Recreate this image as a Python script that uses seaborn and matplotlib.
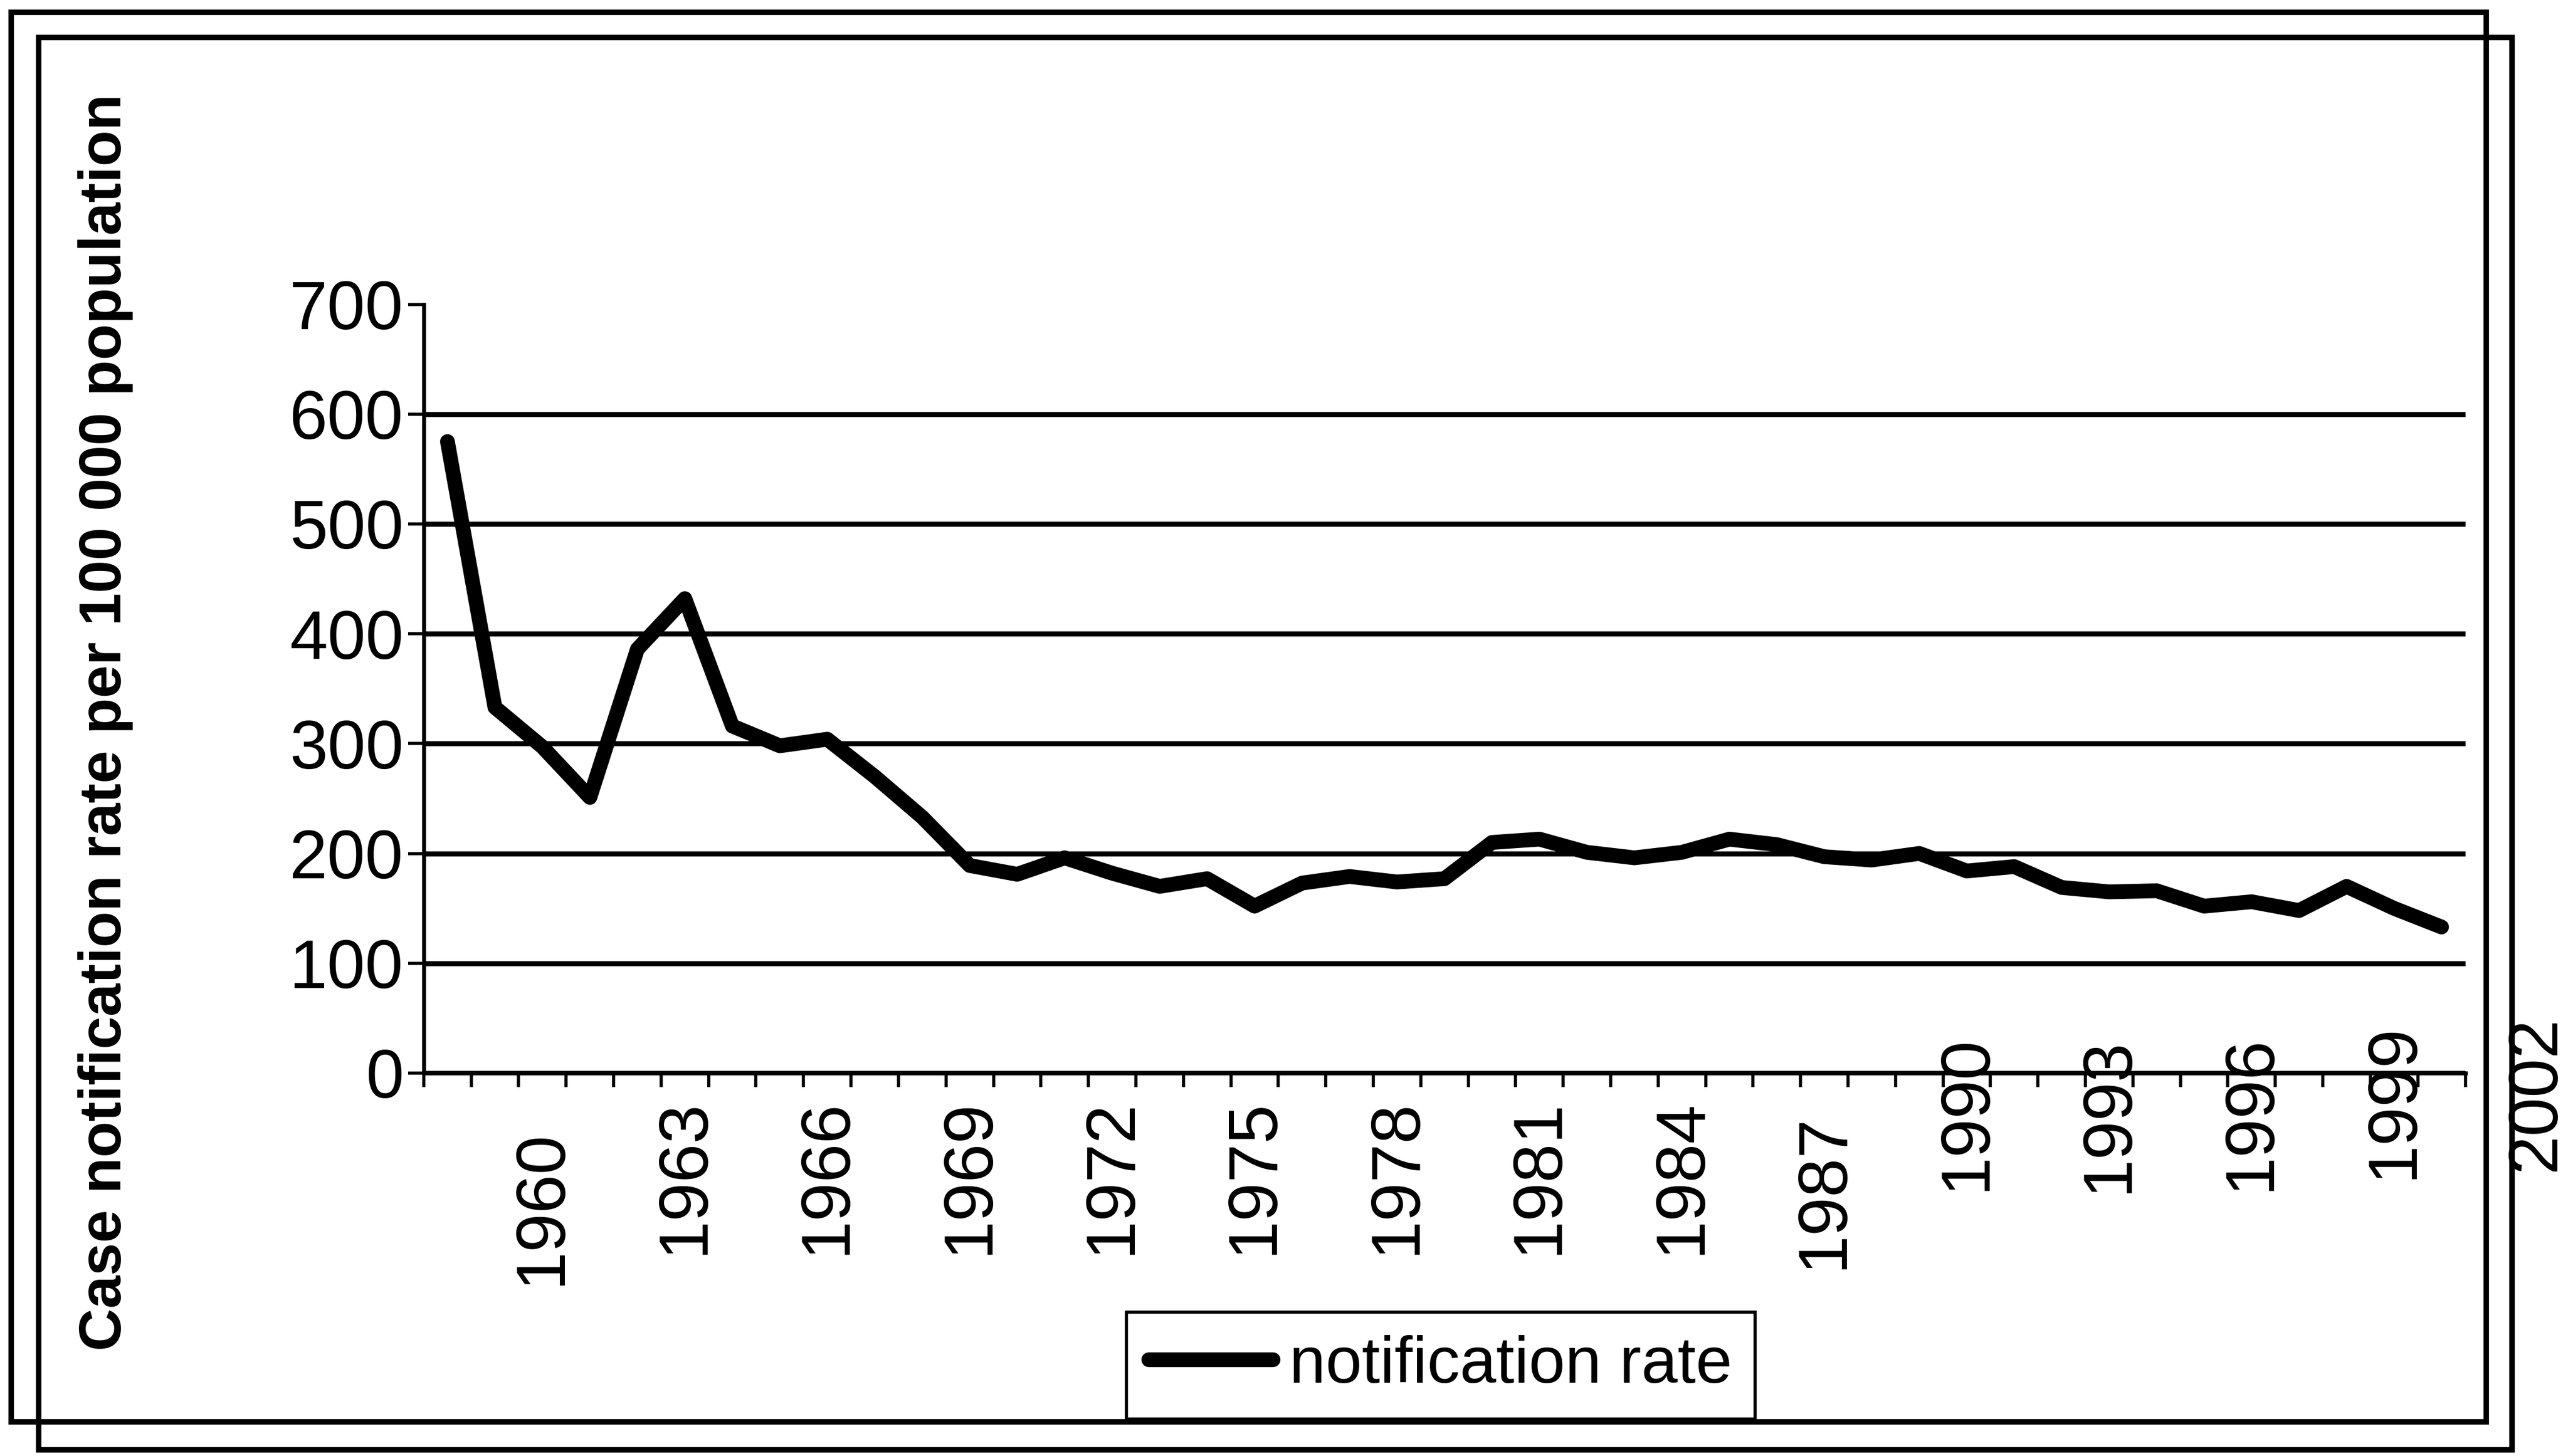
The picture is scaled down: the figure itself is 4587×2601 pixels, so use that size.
import matplotlib
matplotlib.use("Agg")
import matplotlib.pyplot as plt
import matplotlib.transforms as mtransforms
from matplotlib.patches import Rectangle
from matplotlib.ticker import FixedLocator
import numpy as np
import pandas as pd
import seaborn as sns

# data
years = list(range(1958, 2001))
rates = [575, 333, 297, 251, 386, 432, 316, 298, 304, 270,
         233, 189, 181, 196, 182, 170, 177, 152, 173, 179,
         174, 177, 210, 213, 201, 196, 201, 213, 208, 197,
         194, 200, 184, 188, 169, 165, 166, 152, 156, 148,
         170, 150, 133]
label_years = list(range(1960, 2000, 3))
extra_label_year = 2002
y_ticks = [0, 100, 200, 300, 400, 500, 600, 700]
series_name = "notification rate"
y_title = "Case notification rate per 100 000 population"

# vertical nudges (pixels, + is up) to mimic the uneven labels of the scan
label_nudge = {1960: -55, 1987: -26, 1990: 114, 1993: 110, 1996: 114, 1999: 135}

sns.set_theme(style="white")
plt.rcParams["font.family"] = ["Liberation Sans", "DejaVu Sans"]
plt.rcParams["text.color"] = "black"
plt.rcParams["axes.labelcolor"] = "black"

W, H = 4587, 2601
fig = plt.figure(figsize=(W / 100, H / 100), dpi=100)
ax = fig.add_axes([0.165, 0.263, 0.795, 0.528])

df = pd.DataFrame({"year": years, "rate": rates})
sns.lineplot(data=df, x="year", y="rate", ax=ax, color="black",
             linewidth=19, label=series_name)

ax.set_xlim(years[0] - 0.5, years[-1] + 0.5)
ax.set_ylim(y_ticks[0], y_ticks[-1])
ax.set_yticks(y_ticks)
ax.set_xticks(label_years)
ax.set_xticklabels([str(y) for y in label_years], rotation=90, va="top")
ax.xaxis.set_minor_locator(FixedLocator(np.arange(years[0] - 0.5, years[-1] + 1, 1)))
ax.set_xlabel("")
ax.set_ylabel("")

ax.tick_params(axis="x", which="major", length=0, pad=33, labelsize=90, colors="black")
ax.tick_params(axis="x", which="minor", bottom=True, length=18, width=4,
               direction="out", color="black")
ax.tick_params(axis="y", left=True, length=20, width=4, direction="out",
               pad=6, labelsize=88, colors="black")

ax.yaxis.grid(True, color="black", linewidth=6.5)
ax.xaxis.grid(False)
ax.set_axisbelow(True)
ax.yaxis.get_gridlines()[-1].set_visible(False)

for side in ("top", "right"):
    ax.spines[side].set_visible(False)
for side in ("left", "bottom"):
    ax.spines[side].set_color("black")
    ax.spines[side].set_linewidth(5)

for lbl, yr in zip(ax.get_xticklabels(), label_years):
    dy = label_nudge.get(yr, 0)
    if dy:
        lbl.set_transform(lbl.get_transform() +
                          mtransforms.ScaledTranslation(0, dy / 100, fig.dpi_scale_trans))

# the stray "2002" label sitting past the end of the axis
trans = mtransforms.blended_transform_factory(ax.transData, ax.transAxes)
trans = trans + mtransforms.ScaledTranslation(0, 103 / 100, fig.dpi_scale_trans)
ax.text(extra_label_year, 0, str(extra_label_year), transform=trans, rotation=90,
        ha="center", va="top", fontsize=90, clip_on=False)

fig.text(0.041, 0.504, y_title, rotation=90, ha="center", va="center",
         fontsize=76, fontweight="bold")

leg = ax.legend(loc="center", bbox_to_anchor=(0.561, 0.062),
                bbox_transform=fig.transFigure, fontsize=84, frameon=True,
                fancybox=False, edgecolor="black", framealpha=1,
                handlelength=1.9, handletextpad=0.25, borderpad=0.35)
leg.get_frame().set_linewidth(4)
for txt in leg.get_texts():
    txt.set_color("black")

# double border of the scanned chart
for (x0, y0, x1, y1) in [(20, 22, 4441, 2540), (69, 67, 4487, 2590)]:
    fig.add_artist(Rectangle((x0 / W, 1 - y1 / H), (x1 - x0) / W, (y1 - y0) / H,
                             transform=fig.transFigure, fill=False,
                             edgecolor="black", linewidth=7))

fig.savefig("out.png", dpi=100, facecolor="white")
